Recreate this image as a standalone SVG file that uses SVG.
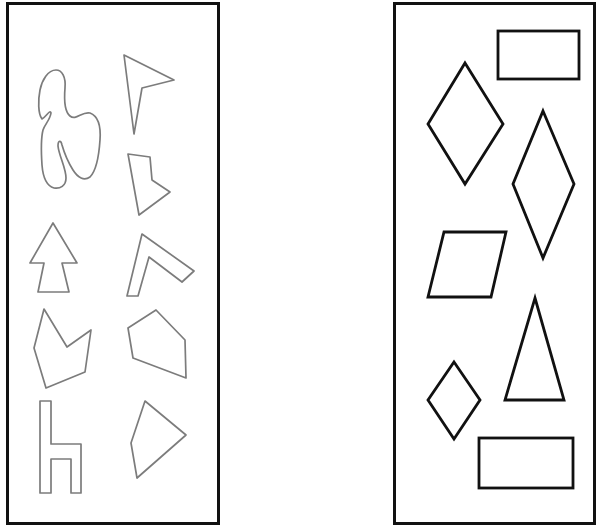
<svg xmlns="http://www.w3.org/2000/svg" width="600" height="530" viewBox="0 0 600 530">
<style>
.frame{fill:none;stroke:#111;stroke-width:3}
.g{fill:none;stroke:#7c7c7c;stroke-width:1.7;stroke-linejoin:round}
.k{fill:none;stroke:#111;stroke-width:2.8;stroke-linejoin:miter}
</style>
<rect width="600" height="530" fill="#fff"/>
<g id="left-panel">
<rect class="frame" x="7.5" y="3.5" width="211" height="520"/>
<g id="blob"><path class="g" stroke="#9a9a9a" stroke-width="1.4" d="M56,70 C62,70 66,77 65,88 C64,100 64,111 70,116 C76,121 82,111 90,113 C98,116 101,126 100,140 C99,155 97,170 90,177 C84,181 78,178 73,170 C68,162 64,152 62,145 C61,140 58,140 58,146 C59,156 66,168 66,178 C66,186 60,189 54,188 C47,186 43,178 42,165 C41,150 41,138 43,130 C45,124 50,120 51,113 C50,109 46,117 42,119 C38,114 38,100 40,90 C42,80 48,70 56,70 Z"/></g>
<g id="arrowhead"><polygon class="g" points="124,55 174,80 142,88 134,134"/></g>
<g id="boot"><polygon class="g" points="128,154 150,157 152,180 170,192 139,215"/></g>
<g id="arrow"><polygon class="g" points="53,223 77,263 62,263 69,292 38,292 44,263 30,263"/></g>
<g id="chevron"><polygon class="g" points="142,234 194,271 182,282 149,257 138,296 127,296"/></g>
<g id="notched"><polygon class="g" points="44,309 67,347 91,330 85,372 46,388 34,348"/></g>
<g id="pentagon"><polygon class="g" points="156,310 185,340 186,378 133,358 128,328"/></g>
<g id="h-shape"><polygon class="g" points="40,401 51,401 51,444 81,444 81,493 71,493 71,459 51,459 51,493 40,493"/></g>
<g id="quad"><polygon class="g" points="145,401 186,435 137,478 131,443"/></g>
</g>
<g id="right-panel">
<rect class="frame" x="394.5" y="3.5" width="200" height="520"/>
<g id="rect-top"><rect class="k" x="498" y="31" width="81" height="48"/></g>
<g id="diamond-1"><polygon class="k" points="465,63 503,124 465,184 428,124"/></g>
<g id="diamond-2"><polygon class="k" points="543,111 574,184 543,258 513,184"/></g>
<g id="parallelogram"><polygon class="k" points="444,232 506,232 491,297 428,297"/></g>
<g id="triangle"><polygon class="k" points="535,298 564,400 505,400"/></g>
<g id="diamond-3"><polygon class="k" points="454,362 480,400 454,439 428,400"/></g>
<g id="rect-bottom"><rect class="k" x="479" y="438" width="94" height="50"/></g>
</g>
</svg>
